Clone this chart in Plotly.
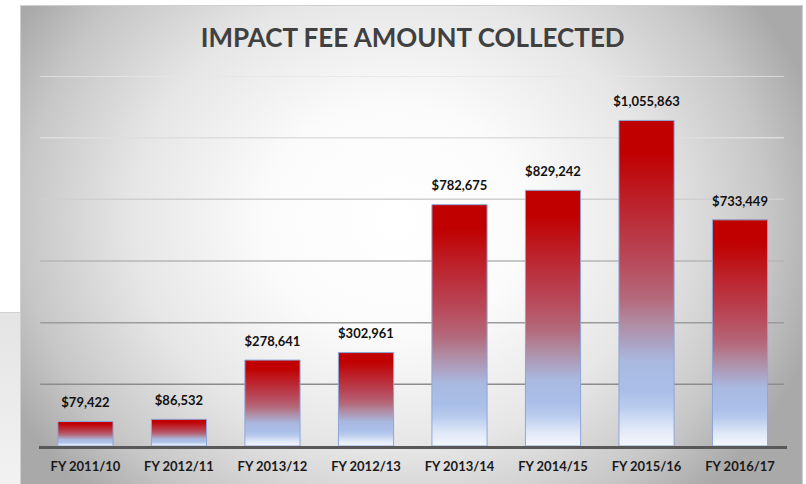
import base64
import plotly.graph_objects as go

# ---------------- data ----------------
categories = ["FY 2011/10", "FY 2012/11", "FY 2013/12", "FY 2012/13",
              "FY 2013/14", "FY 2014/15", "FY 2015/16", "FY 2016/17"]
amounts = [79422, 86532, 278641, 302961, 782675, 829242, 1055863, 733449]
grid_values = [200000, 400000, 600000, 800000, 1000000, 1200000]
title_text = "IMPACT FEE AMOUNT COLLECTED"

# ---------------- styles ----------------
W, H = 806, 484
FONT = "Lato"
grid_colors = ["#8c8c8c", "#9c9c9c", "#b6b6b6", "#cfcfcf", "#dedede", "#e6e6e6"]
bar_half = 0.295
bar_scale = [
    [0.00, "#f4f7fd"], [0.05, "#e2eaf8"], [0.12, "#b9cbee"], [0.17, "#aabfe8"],
    [0.26, "#a9b9e0"], [0.31, "#aca4c6"], [0.38, "#b08aa0"], [0.45, "#b46a7c"],
    [0.57, "#b8495a"], [0.76, "#bd1f28"], [0.90, "#c00000"], [1.00, "#c00000"],
]

# background (decorative) as inline SVG with radial gradient
svg = f'''<svg xmlns="http://www.w3.org/2000/svg" width="{W}" height="{H}" viewBox="0 0 {W} {H}" preserveAspectRatio="none">
<defs>
<radialGradient id="bg" gradientUnits="userSpaceOnUse" cx="0" cy="0" r="1" gradientTransform="translate(395,220) scale(440,380)">
<stop offset="0" stop-color="#ffffff"/>
<stop offset="0.3" stop-color="#fbfbfb"/>
<stop offset="0.6" stop-color="#e6e6e6"/>
<stop offset="0.85" stop-color="#c6c6c6"/>
<stop offset="1" stop-color="#a9a9a9"/>
</radialGradient>
<linearGradient id="lg" x1="0" y1="0" x2="0" y2="1">
<stop offset="0" stop-color="#e4e4e4"/>
<stop offset="1" stop-color="#f2f2f2"/>
</linearGradient>
</defs>
<rect width="{W}" height="{H}" fill="#ffffff"/>
<rect x="0" y="312" width="24" height="172" fill="url(#lg)"/>
<line x1="0" y1="312.5" x2="24" y2="312.5" stroke="#d2d2d2" stroke-width="1"/>
<rect x="20.5" y="5.5" width="782" height="480" fill="url(#bg)" stroke="#cfcfcf" stroke-width="1"/>
</svg>'''
bg_uri = "data:image/svg+xml;base64," + base64.b64encode(svg.encode()).decode()

fig = go.Figure()

for i, (cat, v) in enumerate(zip(categories, amounts)):
    fig.add_trace(go.Scatter(
        x=[i - bar_half, i - bar_half, i + bar_half, i + bar_half, i - bar_half],
        y=[0, v, v, 0, 0],
        mode="lines", fill="toself",
        fillgradient=dict(type="vertical", colorscale=bar_scale),
        line=dict(color="#8ea6d8", width=1),
        hoverinfo="skip", showlegend=False, name=cat,
    ))

fig.add_trace(go.Scatter(
    x=list(range(len(categories))), y=amounts,
    mode="markers+text",
    text=[f"${v:,}" for v in amounts],
    textposition="top center",
    marker=dict(size=16, opacity=0),
    textfont=dict(family=FONT, size=13, color="#111111", weight="bold"),
    cliponaxis=False, showlegend=False, hoverinfo="skip",
))

for gv, gc in zip(grid_values, grid_colors):
    fig.add_shape(type="line", xref="x domain", yref="y", x0=0.002, x1=0.996,
                  y0=gv, y1=gv, line=dict(color=gc, width=1.5), layer="below")

fig.update_layout(
    width=W, height=H,
    margin=dict(l=0, r=0, t=0, b=0),
    paper_bgcolor="white", plot_bgcolor="rgba(0,0,0,0)",
    images=[dict(source=bg_uri, xref="paper", yref="paper", x=0, y=1,
                 sizex=1, sizey=1, sizing="stretch", layer="below",
                 xanchor="left", yanchor="top")],
    title=dict(text=title_text, x=0.512, xanchor="center", y=1 - 38 / H,
               yanchor="middle", yref="container",
               font=dict(family=FONT, size=26, color="#404040", weight="bold")),
    xaxis=dict(domain=[38.7 / W, 786.8 / W], range=[-0.5, len(categories) - 0.5],
               tickvals=list(range(len(categories))), ticktext=categories,
               showgrid=False, zeroline=False, showline=True,
               linecolor="#585858", linewidth=2.5,
               ticks="outside", ticklen=7, tickcolor="rgba(0,0,0,0)",
               tickfont=dict(family=FONT, size=13, color="#1a1a1a", weight="bold")),
    yaxis=dict(domain=[1 - 446 / H, 1 - 76 / H], range=[0, 1200000],
               showgrid=False, zeroline=False, showticklabels=False, showline=False),
    showlegend=False,
)

fig.write_html("out.html", config={"displayModeBar": False},
               post_script="document.body.style.margin='0';document.body.style.overflow='hidden';")
